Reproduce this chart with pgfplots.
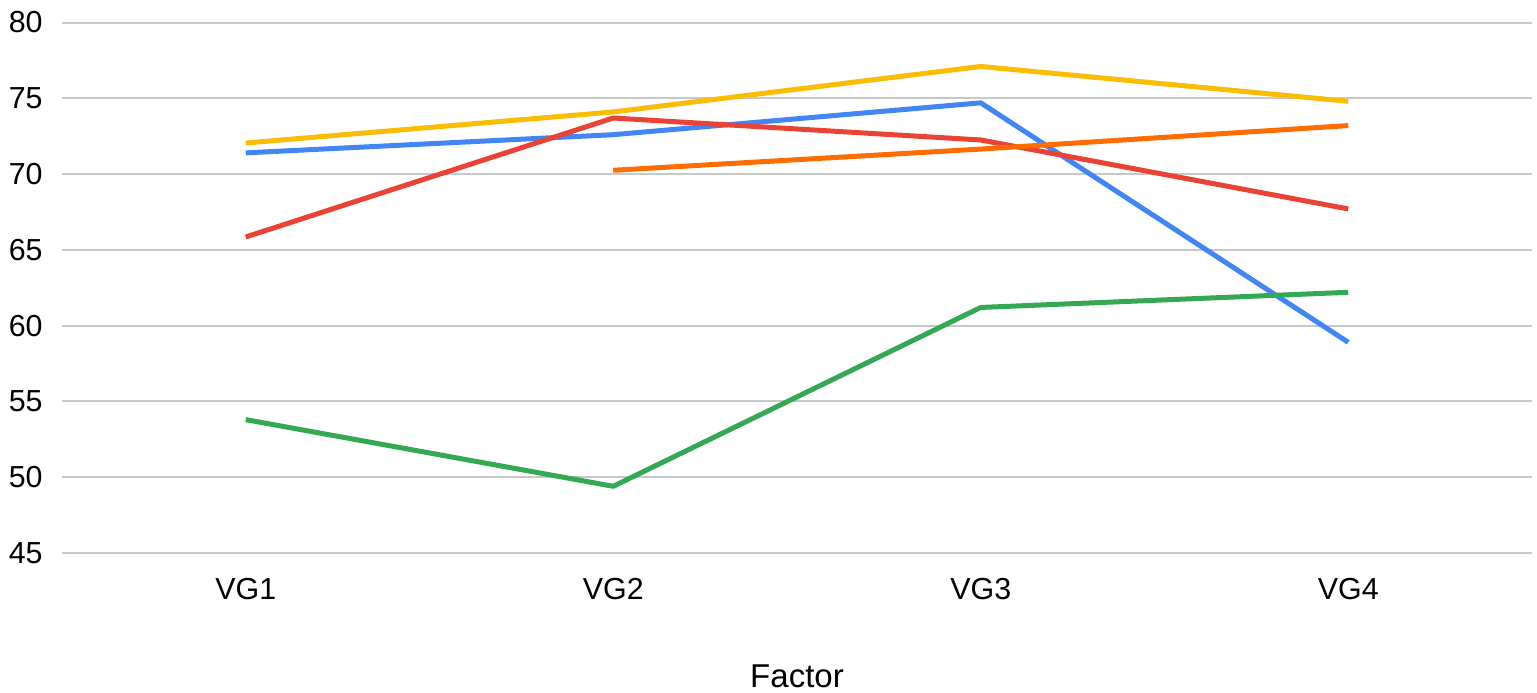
\documentclass[border=0pt]{standalone}
\usepackage{fontspec}
\setmainfont{Liberation Sans}
\usepackage{pgfplots}
\pgfplotsset{compat=1.18}
\definecolor{gblue}{HTML}{4285F4}
\definecolor{gred}{HTML}{EA4335}
\definecolor{gyellow}{HTML}{FBBC04}
\definecolor{ggreen}{HTML}{34A853}
\definecolor{gorange}{HTML}{FF6D01}
\definecolor{ggrid}{HTML}{C8C8C8}
\begin{document}
\fontsize{15}{18}\selectfont
\begin{tikzpicture}
\useasboundingbox (-31pt,-69.5pt) rectangle (737.5pt,276.5pt);
\begin{axis}[
  at={(0,0)}, anchor=south west,
  scale only axis,
  width=735pt, height=265.25pt,
  xmin=-0.5, xmax=3.5,
  ymin=45, ymax=80,
  ytick={45,50,...,80},
  xtick={0,1,2,3},
  xticklabels={VG1,VG2,VG3,VG4},
  /pgf/number format/assume math mode=true,
  axis line style={draw=none},
  major tick length=0pt,
  ymajorgrids,
  grid style={ggrid, line width=1pt},
  yticklabel style={anchor=east, inner sep=0pt, xshift=-9.5pt},
  xticklabel style={anchor=north, inner sep=0pt, yshift=-12.5pt},
  xlabel={Factor},
  xlabel style={at={(axis description cs:0.5,0)}, anchor=north, inner sep=0pt, yshift=-55.5pt},
  tick label style={font=\fontsize{15.2}{18}\selectfont},
  label style={font=\fontsize{16.5}{20}\selectfont},
  every axis plot/.append style={line width=2.5pt, line join=round, mark=none},
  clip=false,
]
\addplot[gblue] coordinates {(0,71.4) (1,72.6) (2,74.7) (3,58.9)};
\addplot[gred] coordinates {(0,65.85) (1,73.7) (2,72.25) (3,67.7)};
\addplot[gyellow] coordinates {(0,72.05) (1,74.1) (2,77.1) (3,74.8)};
\addplot[ggreen] coordinates {(0,53.8) (1,49.4) (2,61.2) (3,62.2)};
\addplot[gorange] coordinates {(1,70.25) (2,71.65) (3,73.2)};
\end{axis}
\end{tikzpicture}
\end{document}
